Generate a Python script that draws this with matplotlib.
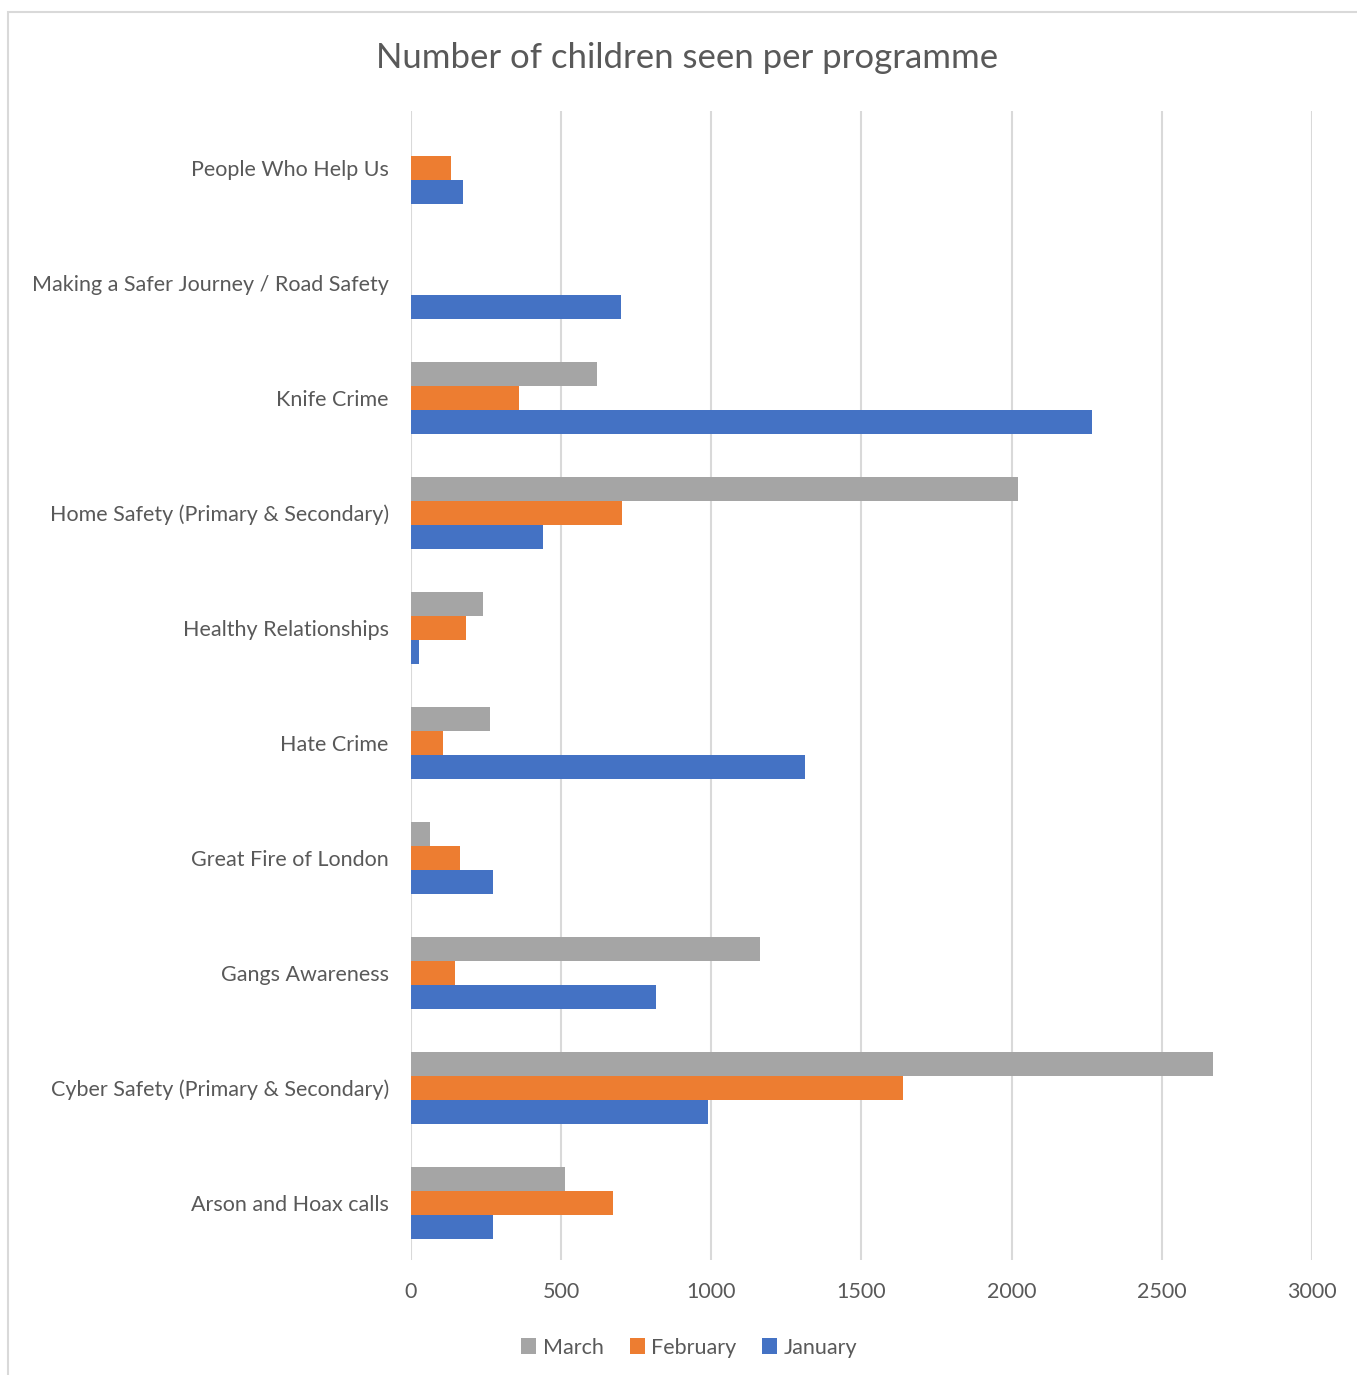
import matplotlib.pyplot as plt
import numpy as np
from matplotlib.patches import Rectangle

programmes = [
    "Arson and Hoax calls",
    "Cyber Safety (Primary & Secondary)",
    "Gangs Awareness",
    "Great Fire of London",
    "Hate Crime",
    "Healthy Relationships",
    "Home Safety (Primary & Secondary)",
    "Knife Crime",
    "Making a Safer Journey / Road Safety",
    "People Who Help Us",
]
january = [273, 990, 817, 272, 1313, 28, 440, 2267, 700, 174]
february = [673, 1637, 147, 163, 108, 182, 703, 360, 0, 134]
march = [514, 2670, 1163, 63, 263, 238, 2020, 620, 0, 0]
ticks = [0, 500, 1000, 1500, 2000, 2500, 3000]

text_col = "#595959"
grid_col = "#D9D9D9"
plt.rcParams["font.family"] = ["Lato", "DejaVu Sans"]

fig = plt.figure(figsize=(13.57, 13.75), dpi=100)
ax = fig.add_axes([0.3029, 0.0836, 0.6639, 0.8357])

y = np.arange(len(programmes))
h = 0.209
ax.barh(y - h, january, height=h, color="#4472C4", label="January")
ax.barh(y, february, height=h, color="#ED7D31", label="February")
ax.barh(y + h, march, height=h, color="#A5A5A5", label="March")

ax.set_xlim(0, 3000)
ax.set_ylim(-0.5, len(programmes) - 0.5)
ax.set_xticks(ticks)
ax.set_xticklabels([str(t) for t in ticks])
ax.set_yticks(y)
ax.set_yticklabels(programmes)
ax.tick_params(axis="both", length=0, labelsize=15.5, colors=text_col)
ax.tick_params(axis="y", pad=16)
ax.tick_params(axis="x", pad=16)
ax.grid(axis="x", color=grid_col, linewidth=1.5)
ax.set_axisbelow(True)
for s in ax.spines.values():
    s.set_visible(False)

fig.text(0.506, 0.958, "Number of children seen per programme", ha="center",
         va="center", fontsize=25, color=text_col)

handles, labels = ax.get_legend_handles_labels()
fig.legend(handles[::-1], labels[::-1], loc="center", bbox_to_anchor=(0.508, 0.020),
           ncol=3, frameon=False, fontsize=15.5, labelcolor=text_col,
           handlelength=0.7, handleheight=0.7, handletextpad=0.3, columnspacing=1.2)

fig.patches.append(Rectangle((8 / 1357, -0.01), 1.1, 1 - 12 / 1375 + 0.01,
                             transform=fig.transFigure, fill=False,
                             edgecolor=grid_col, linewidth=1.5))

fig.savefig("out.png", dpi=100)
